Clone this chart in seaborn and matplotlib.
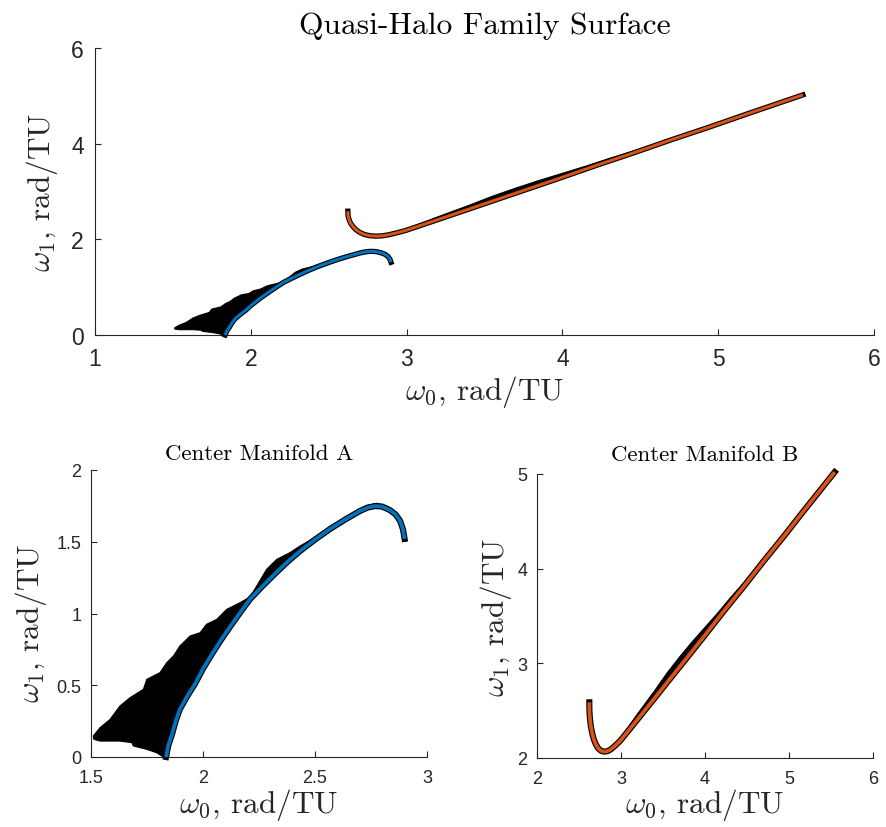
import numpy as np
import pandas as pd
import matplotlib
matplotlib.use("Agg")
import matplotlib.pyplot as plt
import seaborn as sns

# ---------------- data ----------------
# Center Manifold A : blue continuation curve
a_w0 = [1.835, 1.845, 1.862, 1.878, 1.897, 1.930, 1.964, 2.000, 2.040, 2.080,
        2.120, 2.165, 2.210, 2.265, 2.320, 2.375, 2.433, 2.500, 2.567, 2.635,
        2.700, 2.735, 2.768, 2.800, 2.835, 2.860, 2.880, 2.893, 2.900]
a_w1 = [0.000, 0.080, 0.160, 0.250, 0.334, 0.425, 0.509, 0.615, 0.718, 0.815,
        0.906, 1.005, 1.100, 1.190, 1.275, 1.357, 1.435, 1.515, 1.589, 1.655,
        1.714, 1.738, 1.749, 1.745, 1.720, 1.690, 1.645, 1.585, 1.520]
# black quasi-halo cloud of family A: upper edge (left -> right)
a_top_w0 = [1.510, 1.540, 1.585, 1.629, 1.674, 1.734, 1.749, 1.808, 1.838, 1.868,
            1.897, 1.942, 1.987, 2.016, 2.061, 2.106, 2.165, 2.210, 2.240, 2.284,
            2.329, 2.388, 2.433, 2.493, 2.582, 2.656, 2.731, 2.775, 2.820, 2.865,
            2.902, 2.906]
a_top_w1 = [0.146, 0.204, 0.262, 0.355, 0.413, 0.472, 0.541, 0.588, 0.657, 0.704,
            0.774, 0.843, 0.866, 0.925, 0.959, 1.029, 1.075, 1.115, 1.192, 1.308,
            1.377, 1.424, 1.470, 1.525, 1.615, 1.685, 1.752, 1.768, 1.750, 1.690,
            1.560, 1.500]
# lower edge (right -> left)
a_bot_w0 = [1.823, 1.793, 1.749, 1.689, 1.682, 1.629, 1.540, 1.513]
a_bot_w1 = [0.000, 0.030, 0.053, 0.077, 0.100, 0.111, 0.111, 0.123]

# Center Manifold B : orange continuation curve
b_w0 = [2.623, 2.624, 2.630, 2.640, 2.655, 2.675, 2.700, 2.730, 2.765, 2.800,
        2.840, 2.880, 2.930, 2.992, 3.190, 3.389, 3.587, 3.786, 3.984, 4.222,
        4.460, 4.698, 4.937, 5.175, 5.373, 5.544]
b_w1 = [2.588, 2.500, 2.420, 2.340, 2.270, 2.200, 2.145, 2.100, 2.075, 2.067,
        2.072, 2.092, 2.130, 2.183, 2.400, 2.620, 2.840, 3.060, 3.280, 3.550,
        3.810, 4.080, 4.340, 4.610, 4.830, 5.020]
# black quasi-halo band of family B (upper edge and the curve below it)
b_band_w0 = [3.05, 3.20, 3.40, 3.55, 3.70, 3.85, 4.00, 4.15, 4.30, 4.50, 4.70]
b_band_hi = [2.28, 2.47, 2.71, 2.90, 3.07, 3.23, 3.38, 3.53, 3.69, 3.89, 4.10]
b_band_lo = [2.25, 2.41, 2.63, 2.80, 2.97, 3.14, 3.30, 3.47, 3.64, 3.86, 4.08]

top_xticks = [1, 2, 3, 4, 5, 6]
top_yticks = [0, 2, 4, 6]
a_xticks = [1.5, 2, 2.5, 3]
a_yticks = [0, 0.5, 1, 1.5, 2]
b_xticks = [2, 3, 4, 5, 6]
b_yticks = [2, 3, 4, 5]

title_main = "Quasi-Halo Family Surface"
title_a = "Center Manifold A"
title_b = "Center Manifold B"
xlab = r"$\omega_0$, rad/TU"
ylab = r"$\omega_1$, rad/TU"

BLUE = "#0072BD"
ORANGE = "#D95319"
AXC = "#262626"

# ---------------- style ----------------
sns.set_style("ticks")
plt.rcParams["mathtext.fontset"] = "cm"
plt.rcParams["font.family"] = ["Liberation Sans", "DejaVu Sans"]
plt.rcParams["axes.edgecolor"] = AXC
plt.rcParams["xtick.color"] = AXC
plt.rcParams["ytick.color"] = AXC
plt.rcParams["xtick.direction"] = "in"
plt.rcParams["ytick.direction"] = "in"

W, H = 886, 828
fig = plt.figure(figsize=(W / 100, H / 100), dpi=100)

def add_ax(l, r, t, b):
    return fig.add_axes([l / W, 1 - b / H, (r - l) / W, (b - t) / H])

ax_top = add_ax(95, 874, 49, 336)
ax_a = add_ax(91, 427, 471, 758)
ax_b = add_ax(537, 873, 475, 759)

df_a = pd.DataFrame({"w0": a_w0, "w1": a_w1})
df_b = pd.DataFrame({"w0": b_w0, "w1": b_w1})

def draw_curve(ax, df, col, lw_col, lw_blk):
    sns.lineplot(data=df, x="w0", y="w1", sort=False, estimator=None,
                 color="black", lw=lw_blk, ax=ax, zorder=3, clip_on=False,
                 solid_capstyle="projecting", solid_joinstyle="round")
    sns.lineplot(data=df, x="w0", y="w1", sort=False, estimator=None,
                 color=col, lw=lw_col, ax=ax, zorder=4, clip_on=False,
                 solid_capstyle="butt", solid_joinstyle="round")

def draw_a(ax, lw_col, lw_blk):
    poly_x = a_top_w0 + a_w0[::-1] + a_bot_w0
    poly_y = a_top_w1 + a_w1[::-1] + a_bot_w1
    ax.fill(poly_x, poly_y, color="black", lw=0.8, ec="black", zorder=2)
    draw_curve(ax, df_a, BLUE, lw_col, lw_blk)

def draw_b(ax, lw_col, lw_blk):
    ax.fill(b_band_w0 + b_band_w0[::-1], b_band_hi + b_band_lo[::-1],
            color="black", lw=0.8, ec="black", zorder=2)
    draw_curve(ax, df_b, ORANGE, lw_col, lw_blk)

def style_ax(ax, xt, yt, fs, pad_x, pad_y):
    sns.despine(ax=ax)
    ax.spines["left"].set_linewidth(0.8)
    ax.spines["bottom"].set_linewidth(0.8)
    ax.set_xticks(xt)
    ax.set_yticks(yt)
    ax.set_xticklabels([f"{v:g}" for v in xt])
    ax.set_yticklabels([f"{v:g}" for v in yt])
    ax.tick_params(axis="x", labelsize=fs, length=4, width=0.8, pad=pad_x)
    ax.tick_params(axis="y", labelsize=fs, length=4, width=0.8, pad=pad_y)
    ax.set_xlim(xt[0], xt[-1])
    ax.set_ylim(yt[0], yt[-1])

LAB_FS = 22.5

# top panel
draw_a(ax_top, 2.2, 3.8)
draw_b(ax_top, 2.2, 3.8)
style_ax(ax_top, top_xticks, top_yticks, 16.5, 9, 8)
ax_top.set_title(title_main, family="cmr10", fontsize=22.7, pad=11, color="black")
ax_top.set_xlabel(xlab, family="cmr10", fontsize=LAB_FS, color=AXC)
ax_top.set_ylabel(ylab, family="cmr10", fontsize=LAB_FS, color=AXC)
ax_top.xaxis.set_label_coords(0.5, -0.133)
ax_top.xaxis.label.set_va("top")
ax_top.yaxis.set_label_coords(-0.068, 0.5)
ax_top.yaxis.label.set_va("center")

# bottom left : manifold A
draw_a(ax_a, 2.7, 4.4)
style_ax(ax_a, a_xticks, a_yticks, 13, 9, 7)
ax_a.set_title(title_a, family="cmr10", fontsize=16.5, pad=8, color="black")
ax_a.set_xlabel(xlab, family="cmr10", fontsize=LAB_FS, color=AXC)
ax_a.set_ylabel(ylab, family="cmr10", fontsize=LAB_FS, color=AXC)
ax_a.xaxis.set_label_coords(0.5, -0.10)
ax_a.xaxis.label.set_va("top")
ax_a.yaxis.set_label_coords(-0.18, 0.47)
ax_a.yaxis.label.set_va("center")

# bottom right : manifold B
draw_b(ax_b, 2.7, 4.4)
style_ax(ax_b, b_xticks, b_yticks, 13, 9, 7)
ax_b.set_title(title_b, family="cmr10", fontsize=16.5, pad=10, color="black")
ax_b.set_xlabel(xlab, family="cmr10", fontsize=LAB_FS, color=AXC)
ax_b.set_ylabel(ylab, family="cmr10", fontsize=LAB_FS, color=AXC)
ax_b.xaxis.set_label_coords(0.5, -0.10)
ax_b.xaxis.label.set_va("top")
ax_b.yaxis.set_label_coords(-0.122, 0.5)
ax_b.yaxis.label.set_va("center")

fig.savefig("out.png", dpi=100, facecolor="white")
